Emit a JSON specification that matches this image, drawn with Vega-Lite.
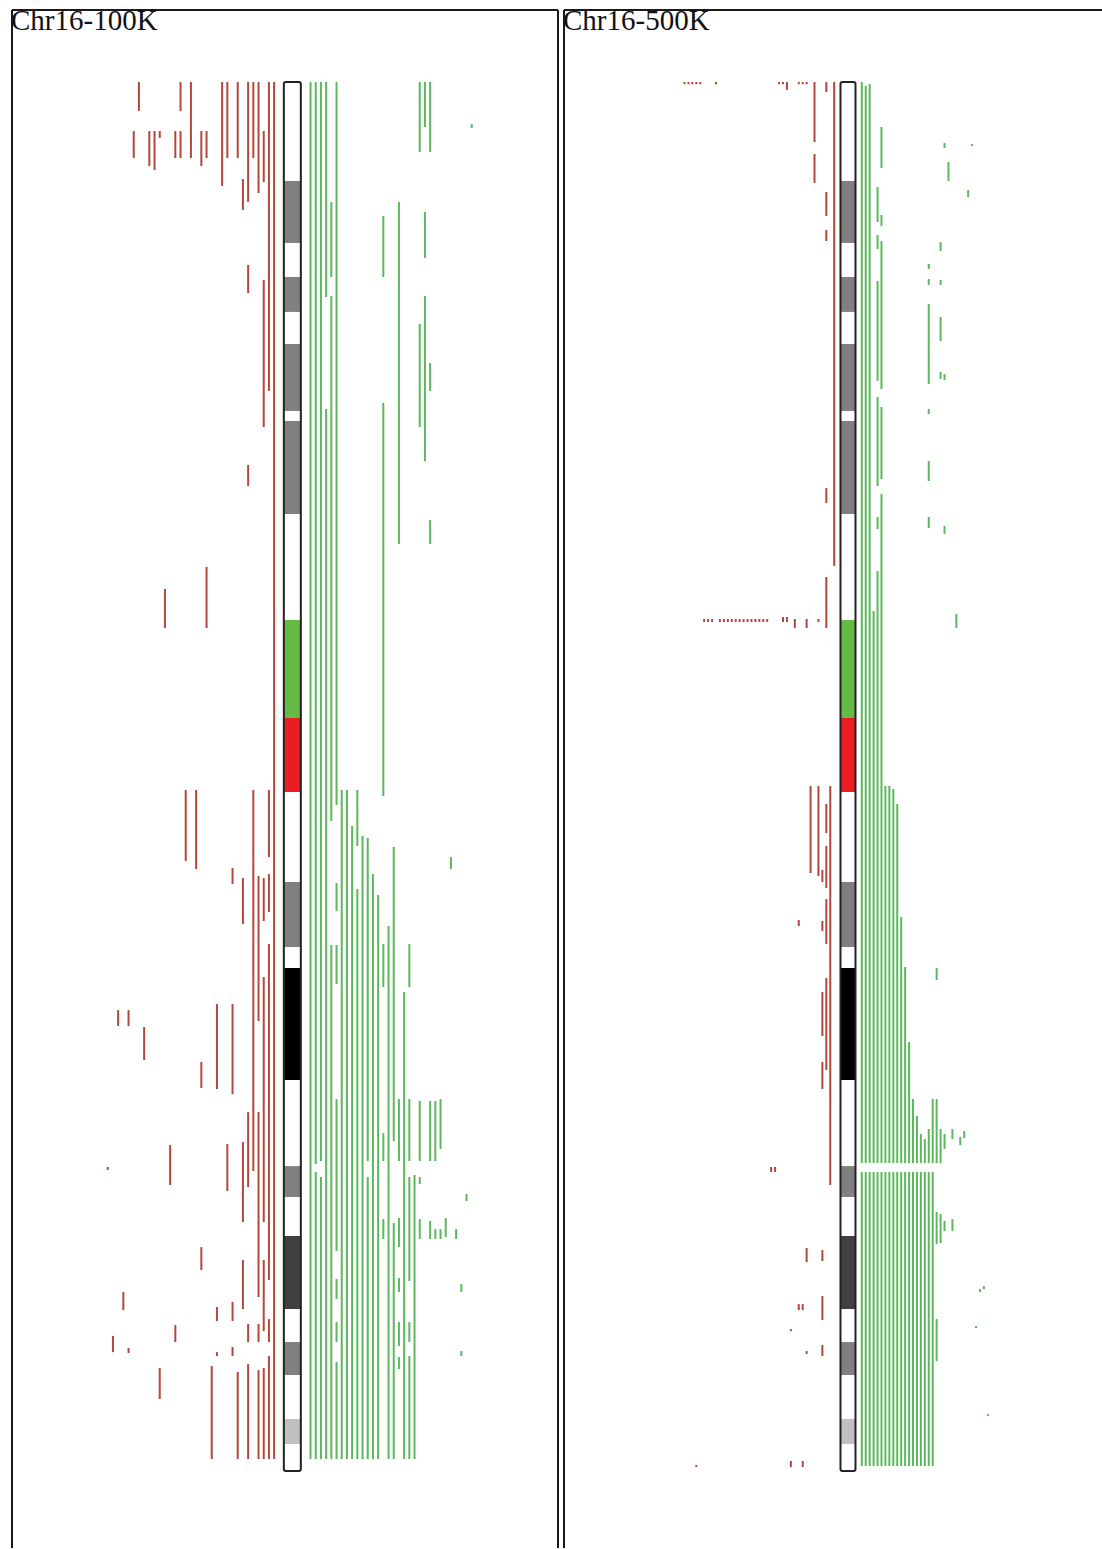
{
"$schema": "https://vega.github.io/schema/vega-lite/v6.json",
"autosize": {"type": "pad"},
"padding": {"left": 11, "top": 7, "right": 0, "bottom": 0},
"bounds": "flush",
"background": "white",
"config": {
  "view": {"stroke": null},
  "concat": {"spacing": 6}
},
"datasets": {
  "titles": [{"p": "a", "label": "Chr16-100K"}, {"p": "b", "label": "Chr16-500K"}],
  "bands": [
    {"s": 0, "e": 6.6, "stain": "gneg"},
    {"s": 6.6, "e": 10.73, "stain": "gpos50"},
    {"s": 10.73, "e": 13.0, "stain": "gneg"},
    {"s": 13.0, "e": 15.33, "stain": "gpos50"},
    {"s": 15.33, "e": 17.47, "stain": "gneg"},
    {"s": 17.47, "e": 21.93, "stain": "gpos50"},
    {"s": 21.93, "e": 22.6, "stain": "gneg"},
    {"s": 22.6, "e": 28.8, "stain": "gpos50"},
    {"s": 28.8, "e": 35.87, "stain": "gneg"},
    {"s": 35.87, "e": 42.4, "stain": "acenp"},
    {"s": 42.4, "e": 47.33, "stain": "acenq"},
    {"s": 47.33, "e": 53.33, "stain": "gneg"},
    {"s": 53.33, "e": 57.67, "stain": "gpos50"},
    {"s": 57.67, "e": 59.07, "stain": "gneg"},
    {"s": 59.07, "e": 66.53, "stain": "gpos100"},
    {"s": 66.53, "e": 72.27, "stain": "gneg"},
    {"s": 72.27, "e": 74.33, "stain": "gpos50"},
    {"s": 74.33, "e": 76.93, "stain": "gneg"},
    {"s": 76.93, "e": 81.8, "stain": "gpos75"},
    {"s": 81.8, "e": 84.0, "stain": "gneg"},
    {"s": 84.0, "e": 86.2, "stain": "gpos50"},
    {"s": 86.2, "e": 89.13, "stain": "gneg"},
    {"s": 89.13, "e": 90.8, "stain": "gpos25"},
    {"s": 90.8, "e": 92.6, "stain": "gneg"}
  ],
  "segs": [
    {"p":"a","t":"l","c":-3,"s":0,"e":91.8},
    {"p":"a","t":"l","c":-4,"s":0,"e":20.6},{"p":"a","t":"l","c":-4,"s":47.2,"e":51.67},{"p":"a","t":"l","c":-4,"s":52.8,"e":55.33},{"p":"a","t":"l","c":-4,"s":57.47,"e":79.87},{"p":"a","t":"l","c":-4,"s":82.47,"e":84.0},{"p":"a","t":"l","c":-4,"s":84.93,"e":91.8},
    {"p":"a","t":"l","c":-5,"s":3.27,"e":6.67},{"p":"a","t":"l","c":-5,"s":13.2,"e":23.0},{"p":"a","t":"l","c":-5,"s":53.07,"e":55.93},{"p":"a","t":"l","c":-5,"s":59.67,"e":76.0},{"p":"a","t":"l","c":-5,"s":78.53,"e":83.27},{"p":"a","t":"l","c":-5,"s":85.73,"e":91.8},
    {"p":"a","t":"l","c":-6,"s":0,"e":7.4},{"p":"a","t":"l","c":-6,"s":52.93,"e":62.6},{"p":"a","t":"l","c":-6,"s":68.67,"e":81.0},{"p":"a","t":"l","c":-6,"s":82.8,"e":84.0},{"p":"a","t":"l","c":-6,"s":85.87,"e":91.8},
    {"p":"a","t":"l","c":-7,"s":0,"e":5.07},{"p":"a","t":"l","c":-7,"s":47.2,"e":72.6},
    {"p":"a","t":"l","c":-8,"s":0,"e":8.0},{"p":"a","t":"l","c":-8,"s":12.2,"e":14.07},{"p":"a","t":"l","c":-8,"s":25.53,"e":26.93},{"p":"a","t":"l","c":-8,"s":68.67,"e":73.67},{"p":"a","t":"l","c":-8,"s":82.8,"e":84.0},{"p":"a","t":"l","c":-8,"s":85.47,"e":91.8},
    {"p":"a","t":"l","c":-9,"s":6.47,"e":8.53},{"p":"a","t":"l","c":-9,"s":53.07,"e":56.13},{"p":"a","t":"l","c":-9,"s":70.67,"e":76.0},{"p":"a","t":"l","c":-9,"s":78.53,"e":81.8},
    {"p":"a","t":"l","c":-10,"s":0,"e":5.07},{"p":"a","t":"l","c":-10,"s":86.0,"e":91.8},
    {"p":"a","t":"l","c":-11,"s":52.4,"e":53.47},{"p":"a","t":"l","c":-11,"s":61.47,"e":67.47},{"p":"a","t":"l","c":-11,"s":81.33,"e":82.6},{"p":"a","t":"l","c":-11,"s":84.33,"e":84.93},
    {"p":"a","t":"l","c":-12,"s":0,"e":5.07},{"p":"a","t":"l","c":-12,"s":70.8,"e":73.93},
    {"p":"a","t":"l","c":-13,"s":0,"e":6.93},
    {"p":"a","t":"l","c":-14,"s":61.47,"e":67.13},{"p":"a","t":"l","c":-14,"s":81.67,"e":82.6},{"p":"a","t":"l","c":-14,"s":84.67,"e":84.93},
    {"p":"a","t":"l","c":-15,"s":85.6,"e":91.8},
    {"p":"a","t":"l","c":-16,"s":3.27,"e":5.07},{"p":"a","t":"l","c":-16,"s":32.33,"e":36.4},
    {"p":"a","t":"l","c":-17,"s":3.27,"e":5.6},{"p":"a","t":"l","c":-17,"s":65.33,"e":67.07},{"p":"a","t":"l","c":-17,"s":77.67,"e":79.2},
    {"p":"a","t":"l","c":-18,"s":47.2,"e":52.47},
    {"p":"a","t":"l","c":-19,"s":0,"e":5.07},
    {"p":"a","t":"l","c":-20,"s":47.2,"e":51.93},
    {"p":"a","t":"l","c":-21,"s":0,"e":1.93},{"p":"a","t":"l","c":-21,"s":3.27,"e":5.07},
    {"p":"a","t":"l","c":-22,"s":3.27,"e":5.07},{"p":"a","t":"l","c":-22,"s":82.87,"e":84.0},
    {"p":"a","t":"l","c":-23,"s":70.87,"e":73.53},
    {"p":"a","t":"l","c":-24,"s":33.8,"e":36.4},
    {"p":"a","t":"l","c":-25,"s":3.27,"e":3.73},{"p":"a","t":"l","c":-25,"s":85.73,"e":87.8},
    {"p":"a","t":"l","c":-26,"s":3.27,"e":5.87},
    {"p":"a","t":"l","c":-27,"s":3.27,"e":5.6},
    {"p":"a","t":"l","c":-28,"s":63.0,"e":65.2},
    {"p":"a","t":"l","c":-29,"s":0,"e":1.93},
    {"p":"a","t":"l","c":-30,"s":3.27,"e":5.07},
    {"p":"a","t":"l","c":-31,"s":61.87,"e":62.93},{"p":"a","t":"l","c":-31,"s":84.4,"e":84.73},
    {"p":"a","t":"l","c":-32,"s":80.67,"e":81.87},
    {"p":"a","t":"l","c":-33,"s":61.87,"e":62.93},
    {"p":"a","t":"l","c":-34,"s":83.6,"e":84.67},
    {"p":"a","t":"l","c":-35,"s":72.33,"e":72.53},

    {"p":"a","t":"g","c":4,"s":0,"e":91.8},
    {"p":"a","t":"g","c":5,"s":0,"e":72.13},{"p":"a","t":"g","c":5,"s":72.67,"e":91.8},
    {"p":"a","t":"g","c":6,"s":0,"e":71.93},{"p":"a","t":"g","c":6,"s":73.0,"e":91.8},
    {"p":"a","t":"g","c":7,"s":0,"e":14.33},{"p":"a","t":"g","c":7,"s":21.8,"e":91.8},
    {"p":"a","t":"g","c":8,"s":8.0,"e":13.0},{"p":"a","t":"g","c":8,"s":14.27,"e":49.27},{"p":"a","t":"g","c":8,"s":57.53,"e":91.8},
    {"p":"a","t":"g","c":9,"s":0,"e":48.2},{"p":"a","t":"g","c":9,"s":53.4,"e":55.27},{"p":"a","t":"g","c":9,"s":57.53,"e":60.13},{"p":"a","t":"g","c":9,"s":67.8,"e":77.93},{"p":"a","t":"g","c":9,"s":79.8,"e":81.13},{"p":"a","t":"g","c":9,"s":82.67,"e":84.0},{"p":"a","t":"g","c":9,"s":85.33,"e":91.8},
    {"p":"a","t":"g","c":10,"s":47.2,"e":91.8},
    {"p":"a","t":"g","c":11,"s":47.2,"e":91.8},
    {"p":"a","t":"g","c":12,"s":49.6,"e":91.8},
    {"p":"a","t":"g","c":13,"s":47.2,"e":50.93},{"p":"a","t":"g","c":13,"s":53.8,"e":91.8},
    {"p":"a","t":"g","c":14,"s":50.27,"e":91.8},
    {"p":"a","t":"g","c":15,"s":50.4,"e":71.93},{"p":"a","t":"g","c":15,"s":73.0,"e":91.8},
    {"p":"a","t":"g","c":16,"s":52.8,"e":91.8},
    {"p":"a","t":"g","c":17,"s":54.2,"e":91.8},
    {"p":"a","t":"g","c":18,"s":8.93,"e":13.0},{"p":"a","t":"g","c":18,"s":21.4,"e":47.6},{"p":"a","t":"g","c":18,"s":57.47,"e":60.33},{"p":"a","t":"g","c":18,"s":70.07,"e":71.93},{"p":"a","t":"g","c":18,"s":75.8,"e":77.13},
    {"p":"a","t":"g","c":19,"s":56.27,"e":91.8},
    {"p":"a","t":"g","c":20,"s":51.0,"e":70.6},{"p":"a","t":"g","c":20,"s":76.07,"e":91.8},
    {"p":"a","t":"g","c":21,"s":8.0,"e":30.8},{"p":"a","t":"g","c":21,"s":67.8,"e":71.93},{"p":"a","t":"g","c":21,"s":75.73,"e":77.67},{"p":"a","t":"g","c":21,"s":79.73,"e":80.67},{"p":"a","t":"g","c":21,"s":82.67,"e":84.27},{"p":"a","t":"g","c":21,"s":85.0,"e":85.8},
    {"p":"a","t":"g","c":22,"s":60.67,"e":91.8},
    {"p":"a","t":"g","c":23,"s":57.47,"e":60.33},{"p":"a","t":"g","c":23,"s":67.8,"e":71.93},{"p":"a","t":"g","c":23,"s":73.0,"e":79.93},{"p":"a","t":"g","c":23,"s":82.67,"e":84.0},{"p":"a","t":"g","c":23,"s":84.93,"e":91.8},
    {"p":"a","t":"g","c":24,"s":72.87,"e":91.8},
    {"p":"a","t":"g","c":25,"s":0,"e":4.67},{"p":"a","t":"g","c":25,"s":16.13,"e":23.0},{"p":"a","t":"g","c":25,"s":67.93,"e":71.93},{"p":"a","t":"g","c":25,"s":73.0,"e":73.47},{"p":"a","t":"g","c":25,"s":75.8,"e":77.13},
    {"p":"a","t":"g","c":26,"s":0,"e":3.0},{"p":"a","t":"g","c":26,"s":8.67,"e":11.73},{"p":"a","t":"g","c":26,"s":14.27,"e":25.27},
    {"p":"a","t":"g","c":27,"s":0,"e":4.67},{"p":"a","t":"g","c":27,"s":18.73,"e":20.6},{"p":"a","t":"g","c":27,"s":29.2,"e":30.8},{"p":"a","t":"g","c":27,"s":67.93,"e":71.93},{"p":"a","t":"g","c":27,"s":75.93,"e":77.13},
    {"p":"a","t":"g","c":28,"s":67.93,"e":71.93},{"p":"a","t":"g","c":28,"s":76.47,"e":77.13},
    {"p":"a","t":"g","c":29,"s":67.8,"e":71.13},{"p":"a","t":"g","c":29,"s":76.47,"e":77.13},
    {"p":"a","t":"g","c":30,"s":75.73,"e":77.0},
    {"p":"a","t":"g","c":31,"s":51.67,"e":52.47},
    {"p":"a","t":"g","c":32,"s":76.47,"e":77.13},
    {"p":"a","t":"g","c":33,"s":80.13,"e":80.67},{"p":"a","t":"g","c":33,"s":84.6,"e":84.93},
    {"p":"a","t":"g","c":34,"s":74.13,"e":74.6},
    {"p":"a","t":"g","c":35,"s":2.8,"e":3.07},

    {"p":"b","t":"l","c":-41,"s":0,"e":0.15},{"p":"b","t":"l","c":-40,"s":0,"e":0.15},{"p":"b","t":"l","c":-39,"s":0,"e":0.15},{"p":"b","t":"l","c":-38,"s":0,"e":0.15},{"p":"b","t":"l","c":-37,"s":0,"e":0.15},{"p":"b","t":"l","c":-33,"s":0,"e":0.15},
    {"p":"b","t":"l","c":-17,"s":0,"e":0.15},{"p":"b","t":"l","c":-16,"s":0,"e":0.15},{"p":"b","t":"l","c":-15,"s":0,"e":0.53},
    {"p":"b","t":"l","c":-12,"s":0,"e":0.15},{"p":"b","t":"l","c":-11,"s":0,"e":0.15},{"p":"b","t":"l","c":-10,"s":0,"e":0.15},
    {"p":"b","t":"l","c":-8,"s":0,"e":4.0},{"p":"b","t":"l","c":-8,"s":4.8,"e":6.73},
    {"p":"b","t":"l","c":-5,"s":0,"e":0.67},{"p":"b","t":"l","c":-5,"s":7.33,"e":8.93},{"p":"b","t":"l","c":-5,"s":9.87,"e":10.6},{"p":"b","t":"l","c":-5,"s":27.07,"e":28.07},{"p":"b","t":"l","c":-5,"s":33.0,"e":36.4},{"p":"b","t":"l","c":-5,"s":48.13,"e":50.07},{"p":"b","t":"l","c":-5,"s":50.93,"e":53.73},{"p":"b","t":"l","c":-5,"s":54.47,"e":57.47},{"p":"b","t":"l","c":-5,"s":59.73,"e":65.87},
    {"p":"b","t":"l","c":-3,"s":0,"e":32.27},
    {"p":"b","t":"l","c":-4,"s":46.93,"e":73.53},
    {"p":"b","t":"l","c":-6,"s":52.53,"e":53.33},{"p":"b","t":"l","c":-6,"s":55.93,"e":56.6},{"p":"b","t":"l","c":-6,"s":60.67,"e":63.6},{"p":"b","t":"l","c":-6,"s":65.33,"e":67.13},{"p":"b","t":"l","c":-6,"s":77.87,"e":78.6},{"p":"b","t":"l","c":-6,"s":80.93,"e":82.53},{"p":"b","t":"l","c":-6,"s":84.2,"e":84.93},
    {"p":"b","t":"l","c":-7,"s":46.93,"e":52.93},{"p":"b","t":"l","c":-7,"s":35.8,"e":36.0},
    {"p":"b","t":"l","c":-9,"s":46.93,"e":52.73},
    {"p":"b","t":"l","c":-10,"s":35.8,"e":36.4},{"p":"b","t":"l","c":-10,"s":77.73,"e":78.67},{"p":"b","t":"l","c":-10,"s":84.6,"e":84.8},
    {"p":"b","t":"l","c":-13,"s":35.8,"e":36.4},
    {"p":"b","t":"l","c":-12,"s":55.87,"e":56.27},{"p":"b","t":"l","c":-12,"s":81.47,"e":81.87},
    {"p":"b","t":"l","c":-11,"s":81.47,"e":81.87},{"p":"b","t":"l","c":-11,"s":91.93,"e":92.33},
    {"p":"b","t":"l","c":-14,"s":83.13,"e":83.27},{"p":"b","t":"l","c":-14,"s":91.93,"e":92.33},
    {"p":"b","t":"l","c":-18,"s":72.33,"e":72.67},{"p":"b","t":"l","c":-19,"s":72.33,"e":72.67},
    {"p":"b","t":"l","c":-16,"s":35.67,"e":36.0},{"p":"b","t":"l","c":-15,"s":35.67,"e":36.0},
    {"p":"b","t":"l","c":-36,"s":35.8,"e":36.0},{"p":"b","t":"l","c":-35,"s":35.8,"e":36.0},{"p":"b","t":"l","c":-34,"s":35.8,"e":36.0},
    {"p":"b","t":"l","c":-32,"s":35.8,"e":36.0},{"p":"b","t":"l","c":-31,"s":35.8,"e":36.0},{"p":"b","t":"l","c":-30,"s":35.8,"e":36.0},{"p":"b","t":"l","c":-29,"s":35.8,"e":36.0},{"p":"b","t":"l","c":-28,"s":35.8,"e":36.0},{"p":"b","t":"l","c":-27,"s":35.8,"e":36.0},{"p":"b","t":"l","c":-26,"s":35.8,"e":36.0},{"p":"b","t":"l","c":-25,"s":35.8,"e":36.0},{"p":"b","t":"l","c":-24,"s":35.8,"e":36.0},{"p":"b","t":"l","c":-23,"s":35.8,"e":36.0},{"p":"b","t":"l","c":-22,"s":35.8,"e":36.0},{"p":"b","t":"l","c":-21,"s":35.8,"e":36.0},{"p":"b","t":"l","c":-20,"s":35.8,"e":36.0},
    {"p":"b","t":"l","c":-38,"s":92.2,"e":92.33},

    {"p":"b","t":"g","c":4,"s":0,"e":72.07},{"p":"b","t":"g","c":4,"s":72.67,"e":92.27},
    {"p":"b","t":"g","c":5,"s":0.27,"e":72.07},{"p":"b","t":"g","c":5,"s":72.67,"e":92.27},
    {"p":"b","t":"g","c":6,"s":0.13,"e":72.07},{"p":"b","t":"g","c":6,"s":72.67,"e":92.27},
    {"p":"b","t":"g","c":7,"s":35.27,"e":72.07},{"p":"b","t":"g","c":7,"s":72.67,"e":92.27},
    {"p":"b","t":"g","c":8,"s":7.0,"e":9.33},{"p":"b","t":"g","c":8,"s":10.2,"e":11.13},{"p":"b","t":"g","c":8,"s":13.27,"e":19.93},{"p":"b","t":"g","c":8,"s":21.0,"e":26.93},{"p":"b","t":"g","c":8,"s":29.0,"e":29.8},{"p":"b","t":"g","c":8,"s":32.6,"e":72.07},{"p":"b","t":"g","c":8,"s":72.67,"e":92.27},
    {"p":"b","t":"g","c":9,"s":3.0,"e":5.73},{"p":"b","t":"g","c":9,"s":8.87,"e":9.6},{"p":"b","t":"g","c":9,"s":10.6,"e":20.47},{"p":"b","t":"g","c":9,"s":21.67,"e":26.47},{"p":"b","t":"g","c":9,"s":27.47,"e":72.07},{"p":"b","t":"g","c":9,"s":72.67,"e":92.27},
    {"p":"b","t":"g","c":10,"s":46.93,"e":72.07},{"p":"b","t":"g","c":10,"s":72.67,"e":92.27},
    {"p":"b","t":"g","c":11,"s":46.93,"e":72.07},{"p":"b","t":"g","c":11,"s":72.67,"e":92.27},
    {"p":"b","t":"g","c":12,"s":47.13,"e":72.07},{"p":"b","t":"g","c":12,"s":72.67,"e":92.27},
    {"p":"b","t":"g","c":13,"s":48.13,"e":72.07},{"p":"b","t":"g","c":13,"s":72.67,"e":92.27},
    {"p":"b","t":"g","c":14,"s":55.67,"e":72.07},{"p":"b","t":"g","c":14,"s":72.67,"e":92.27},
    {"p":"b","t":"g","c":15,"s":59.0,"e":72.07},{"p":"b","t":"g","c":15,"s":72.67,"e":92.27},
    {"p":"b","t":"g","c":16,"s":64.0,"e":72.07},{"p":"b","t":"g","c":16,"s":72.67,"e":92.27},
    {"p":"b","t":"g","c":17,"s":67.8,"e":72.07},{"p":"b","t":"g","c":17,"s":72.67,"e":92.27},
    {"p":"b","t":"g","c":18,"s":68.93,"e":72.07},{"p":"b","t":"g","c":18,"s":72.67,"e":92.27},
    {"p":"b","t":"g","c":19,"s":70.13,"e":72.07},{"p":"b","t":"g","c":19,"s":72.67,"e":92.27},
    {"p":"b","t":"g","c":20,"s":70.47,"e":72.07},{"p":"b","t":"g","c":20,"s":72.67,"e":92.27},
    {"p":"b","t":"g","c":21,"s":12.13,"e":12.47},{"p":"b","t":"g","c":21,"s":13.13,"e":13.53},{"p":"b","t":"g","c":21,"s":14.8,"e":20.13},{"p":"b","t":"g","c":21,"s":21.8,"e":22.13},{"p":"b","t":"g","c":21,"s":25.27,"e":26.6},{"p":"b","t":"g","c":21,"s":29.0,"e":29.73},{"p":"b","t":"g","c":21,"s":69.8,"e":72.07},{"p":"b","t":"g","c":21,"s":72.67,"e":92.27},
    {"p":"b","t":"g","c":22,"s":67.8,"e":72.07},{"p":"b","t":"g","c":22,"s":72.67,"e":92.27},
    {"p":"b","t":"g","c":23,"s":59.07,"e":59.87},{"p":"b","t":"g","c":23,"s":67.8,"e":72.07},{"p":"b","t":"g","c":23,"s":75.33,"e":77.47},{"p":"b","t":"g","c":23,"s":82.47,"e":85.27},
    {"p":"b","t":"g","c":24,"s":10.67,"e":11.27},{"p":"b","t":"g","c":24,"s":13.2,"e":13.53},{"p":"b","t":"g","c":24,"s":15.67,"e":17.27},{"p":"b","t":"g","c":24,"s":19.33,"e":19.8},{"p":"b","t":"g","c":24,"s":69.8,"e":72.07},{"p":"b","t":"g","c":24,"s":75.47,"e":77.4},
    {"p":"b","t":"g","c":25,"s":4.07,"e":4.4},{"p":"b","t":"g","c":25,"s":19.47,"e":19.87},{"p":"b","t":"g","c":25,"s":29.6,"e":30.13},{"p":"b","t":"g","c":25,"s":70.13,"e":71.13},{"p":"b","t":"g","c":25,"s":75.93,"e":76.6},
    {"p":"b","t":"g","c":26,"s":5.33,"e":6.6},
    {"p":"b","t":"g","c":27,"s":69.8,"e":70.47},{"p":"b","t":"g","c":27,"s":75.8,"e":76.6},
    {"p":"b","t":"g","c":28,"s":35.47,"e":36.4},
    {"p":"b","t":"g","c":29,"s":70.33,"e":70.87},
    {"p":"b","t":"g","c":30,"s":69.93,"e":70.4},
    {"p":"b","t":"g","c":31,"s":7.2,"e":7.67},
    {"p":"b","t":"g","c":32,"s":4.13,"e":4.27},
    {"p":"b","t":"g","c":33,"s":82.93,"e":83.07},
    {"p":"b","t":"g","c":34,"s":80.47,"e":80.67},
    {"p":"b","t":"g","c":35,"s":80.27,"e":80.47},
    {"p":"b","t":"g","c":36,"s":88.8,"e":88.93}
  ]
},
"hconcat": [
  {
    "width": 546, "height": 1538,
    "layer": [
      {"data": {"name": "bands"}, "mark": {"type": "bar", "width": 17},
       "encoding": {
         "x": {"datum": 0.5, "type": "quantitative", "scale": {"domain": [-53.41, 51.59], "nice": false, "zero": false, "padding": 0}, "axis": null},
         "y": {"field": "s", "type": "quantitative", "scale": {"domain": [-4.8, 97.73], "reverse": true, "nice": false, "zero": false, "padding": 0}, "axis": null},
         "y2": {"field": "e"},
         "fill": {"field": "stain", "type": "nominal", "legend": null, "scale": {"domain": ["gneg","gpos25","gpos50","gpos75","gpos100","acenp","acenq"], "range": ["#ffffff","#c0c0c0","#808080","#404040","#000000","#66bb46","#ec1c24"]}}
       }},
      {"data": {"name": "bands"}, "mark": {"type": "bar", "width": 17, "fillOpacity": 0, "stroke": "#222222", "strokeWidth": 2, "cornerRadius": 2},
       "encoding": {
         "x": {"datum": 0.5, "type": "quantitative"},
         "y": {"field": "s", "aggregate": "min", "type": "quantitative"},
         "y2": {"field": "e", "aggregate": "max"}
       }},
      {"data": {"name": "segs"}, "transform": [{"filter": "datum.p == 'a'"}],
       "mark": {"type": "rule", "strokeWidth": 2},
       "encoding": {
         "x": {"field": "c", "type": "quantitative"},
         "y": {"field": "s", "type": "quantitative"},
         "y2": {"field": "e"},
         "color": {"field": "t", "type": "nominal", "legend": null, "scale": {"domain": ["l","g"], "range": ["#b5473a","#5cb85c"]}}
       }},
      {"data": {"name": "titles"}, "transform": [{"filter": "datum.p == 'a'"}],
       "mark": {"type": "rule", "color": "#1a1a1a", "strokeWidth": 2}, "encoding": {"x": {"datum": -53.41, "type": "quantitative"}}},
      {"data": {"name": "titles"}, "transform": [{"filter": "datum.p == 'a'"}],
       "mark": {"type": "rule", "color": "#1a1a1a", "strokeWidth": 2}, "encoding": {"x": {"datum": 51.59, "type": "quantitative"}}},
      {"data": {"name": "titles"}, "transform": [{"filter": "datum.p == 'a'"}],
       "mark": {"type": "rule", "color": "#1a1a1a", "strokeWidth": 2}, "encoding": {"y": {"datum": -4.8, "type": "quantitative"}}},
      {"data": {"name": "titles"}, "transform": [{"filter": "datum.p == 'a'"}],
       "mark": {"type": "text", "font": "Liberation Serif", "fontSize": 29, "align": "left", "baseline": "alphabetic", "dx": -1, "dy": 20, "color": "#111111"},
       "encoding": {"x": {"datum": -53.41, "type": "quantitative"}, "y": {"datum": -4.8, "type": "quantitative"}, "text": {"field": "label"}}}
    ]
  },
  {
    "width": 538, "height": 1538,
    "layer": [
      {"data": {"name": "bands"}, "mark": {"type": "bar", "width": 15},
       "encoding": {
         "x": {"datum": 0.5, "type": "quantitative", "scale": {"domain": [-71.58, 64.97], "nice": false, "zero": false, "padding": 0}, "axis": null},
         "y": {"field": "s", "type": "quantitative", "scale": {"domain": [-4.8, 97.73], "reverse": true, "nice": false, "zero": false, "padding": 0}, "axis": null},
         "y2": {"field": "e"},
         "fill": {"field": "stain", "type": "nominal", "legend": null, "scale": {"domain": ["gneg","gpos25","gpos50","gpos75","gpos100","acenp","acenq"], "range": ["#ffffff","#c0c0c0","#808080","#404040","#000000","#66bb46","#ec1c24"]}}
       }},
      {"data": {"name": "bands"}, "mark": {"type": "bar", "width": 15, "fillOpacity": 0, "stroke": "#222222", "strokeWidth": 2, "cornerRadius": 2},
       "encoding": {
         "x": {"datum": 0.5, "type": "quantitative"},
         "y": {"field": "s", "aggregate": "min", "type": "quantitative"},
         "y2": {"field": "e", "aggregate": "max"}
       }},
      {"data": {"name": "segs"}, "transform": [{"filter": "datum.p == 'b'"}],
       "mark": {"type": "rule", "strokeWidth": 2},
       "encoding": {
         "x": {"field": "c", "type": "quantitative"},
         "y": {"field": "s", "type": "quantitative"},
         "y2": {"field": "e"},
         "color": {"field": "t", "type": "nominal", "legend": null, "scale": {"domain": ["l","g"], "range": ["#b5473a","#5cb85c"]}}
       }},
      {"data": {"name": "titles"}, "transform": [{"filter": "datum.p == 'b'"}],
       "mark": {"type": "rule", "color": "#1a1a1a", "strokeWidth": 2}, "encoding": {"x": {"datum": -71.58, "type": "quantitative"}}},
      {"data": {"name": "titles"}, "transform": [{"filter": "datum.p == 'b'"}],
       "mark": {"type": "rule", "color": "#1a1a1a", "strokeWidth": 2}, "encoding": {"y": {"datum": -4.8, "type": "quantitative"}}},
      {"data": {"name": "titles"}, "transform": [{"filter": "datum.p == 'b'"}],
       "mark": {"type": "text", "font": "Liberation Serif", "fontSize": 29, "align": "left", "baseline": "alphabetic", "dx": -1, "dy": 20, "color": "#111111"},
       "encoding": {"x": {"datum": -71.58, "type": "quantitative"}, "y": {"datum": -4.8, "type": "quantitative"}, "text": {"field": "label"}}}
    ]
  }
]
}
